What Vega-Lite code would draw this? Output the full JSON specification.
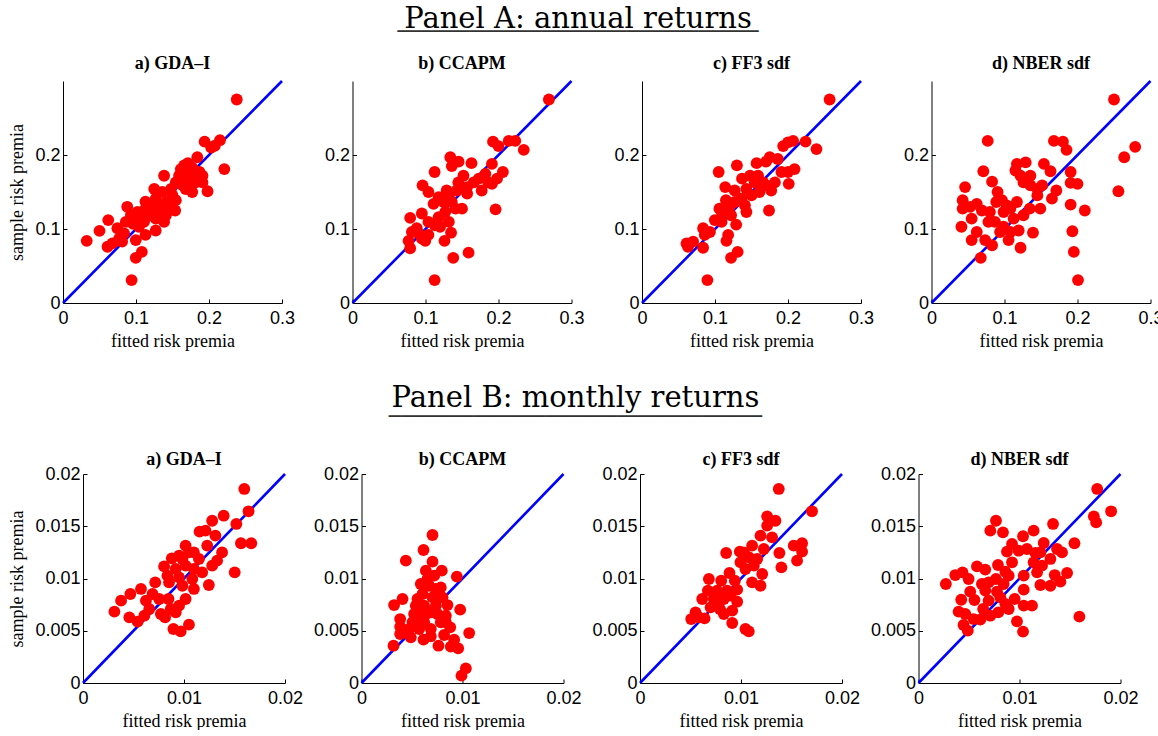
{
  "$schema": "https://vega.github.io/schema/vega-lite/v6.json",
  "background": "white",
  "padding": {"left": 8, "top": 4, "right": 0, "bottom": 0},
  "config": {
    "view": {"stroke": null},
    "axis": {"domainColor": "black", "domainWidth": 1, "tickColor": "black", "tickSize": -4, "labelColor": "black", "titleColor": "black", "labelFont": "Liberation Sans", "labelFontSize": 18, "titleFont": "Liberation Serif", "titleFontSize": 18, "titleFontWeight": "normal", "grid": false, "labelPadding": 7, "titlePadding": 8, "labelFlush": false},
    "axisX": {"labelPadding": 10, "titlePadding": 5},
    "title": {"font": "Liberation Serif", "fontSize": 18, "fontWeight": "bold", "color": "black", "anchor": "middle", "baseline": "alphabetic", "offset": 3}
  },
  "datasets": {
    "diagA": [{"fitted": 0, "sample": 0}, {"fitted": 0.3, "sample": 0.3}],
    "diagB": [{"fitted": 0, "sample": 0}, {"fitted": 0.02, "sample": 0.02}],
    "pts": [
      {"panel":"Aa","fitted":0.238,"sample":0.275},{"panel":"Aa","fitted":0.194,"sample":0.218},{"panel":"Aa","fitted":0.215,"sample":0.220},{"panel":"Aa","fitted":0.208,"sample":0.2125},{"panel":"Aa","fitted":0.203,"sample":0.210},{"panel":"Aa","fitted":0.221,"sample":0.181},{"panel":"Aa","fitted":0.198,"sample":0.151},{"panel":"Aa","fitted":0.184,"sample":0.197},{"panel":"Aa","fitted":0.171,"sample":0.189},{"panel":"Aa","fitted":0.166,"sample":0.186},{"panel":"Aa","fitted":0.177,"sample":0.183},{"panel":"Aa","fitted":0.187,"sample":0.177},{"panel":"Aa","fitted":0.191,"sample":0.163},{"panel":"Aa","fitted":0.177,"sample":0.150},{"panel":"Aa","fitted":0.1385,"sample":0.172},{"panel":"Aa","fitted":0.159,"sample":0.172},{"panel":"Aa","fitted":0.1545,"sample":0.163},{"panel":"Aa","fitted":0.164,"sample":0.159},{"panel":"Aa","fitted":0.173,"sample":0.163},{"panel":"Aa","fitted":0.148,"sample":0.154},{"panel":"Aa","fitted":0.125,"sample":0.154},{"panel":"Aa","fitted":0.136,"sample":0.150},{"panel":"Aa","fitted":0.113,"sample":0.137},{"panel":"Aa","fitted":0.127,"sample":0.141},{"panel":"Aa","fitted":0.141,"sample":0.136},{"panel":"Aa","fitted":0.1545,"sample":0.139},{"panel":"Aa","fitted":0.1536,"sample":0.125},{"panel":"Aa","fitted":0.088,"sample":0.130},{"panel":"Aa","fitted":0.102,"sample":0.123},{"panel":"Aa","fitted":0.120,"sample":0.1275},{"panel":"Aa","fitted":0.132,"sample":0.125},{"panel":"Aa","fitted":0.141,"sample":0.1186},{"panel":"Aa","fitted":0.1385,"sample":0.1096},{"panel":"Aa","fitted":0.127,"sample":0.098},{"panel":"Aa","fitted":0.113,"sample":0.092},{"panel":"Aa","fitted":0.104,"sample":0.103},{"panel":"Aa","fitted":0.093,"sample":0.119},{"panel":"Aa","fitted":0.096,"sample":0.107},{"panel":"Aa","fitted":0.0745,"sample":0.101},{"panel":"Aa","fitted":0.0837,"sample":0.094},{"panel":"Aa","fitted":0.081,"sample":0.083},{"panel":"Aa","fitted":0.0997,"sample":0.085},{"panel":"Aa","fitted":0.108,"sample":0.069},{"panel":"Aa","fitted":0.0997,"sample":0.061},{"panel":"Aa","fitted":0.094,"sample":0.031},{"panel":"Aa","fitted":0.062,"sample":0.112},{"panel":"Aa","fitted":0.050,"sample":0.0975},{"panel":"Aa","fitted":0.0325,"sample":0.084},{"panel":"Aa","fitted":0.061,"sample":0.076},{"panel":"Aa","fitted":0.0677,"sample":0.0805},{"panel":"Aa","fitted":0.111,"sample":0.1096},{"panel":"Aa","fitted":0.118,"sample":0.1186},{"panel":"Aa","fitted":0.145,"sample":0.132},{"panel":"Aa","fitted":0.150,"sample":0.1454},{"panel":"Aa","fitted":0.168,"sample":0.172},{"panel":"Aa","fitted":0.180,"sample":0.172},{"panel":"Aa","fitted":0.191,"sample":0.172},{"panel":"Aa","fitted":0.182,"sample":0.163},{"panel":"Aa","fitted":0.1614,"sample":0.181},{"panel":"Aa","fitted":0.168,"sample":0.154},{"panel":"Aa","fitted":0.127,"sample":0.132},{"panel":"Aa","fitted":0.113,"sample":0.1275},{"panel":"Aa","fitted":0.1066,"sample":0.114},{"panel":"Aa","fitted":0.0997,"sample":0.114},{"panel":"Aa","fitted":0.086,"sample":0.1096},{"panel":"Aa","fitted":0.0768,"sample":0.087},{"panel":"Aa","fitted":0.127,"sample":0.114},
      {"panel":"Ab","fitted":0.269,"sample":0.275},{"panel":"Ab","fitted":0.1925,"sample":0.218},{"panel":"Ab","fitted":0.200,"sample":0.212},{"panel":"Ab","fitted":0.214,"sample":0.219},{"panel":"Ab","fitted":0.223,"sample":0.219},{"panel":"Ab","fitted":0.2346,"sample":0.207},{"panel":"Ab","fitted":0.134,"sample":0.197},{"panel":"Ab","fitted":0.1454,"sample":0.191},{"panel":"Ab","fitted":0.136,"sample":0.185},{"panel":"Ab","fitted":0.163,"sample":0.189},{"panel":"Ab","fitted":0.1125,"sample":0.177},{"panel":"Ab","fitted":0.191,"sample":0.188},{"panel":"Ab","fitted":0.206,"sample":0.177},{"panel":"Ab","fitted":0.198,"sample":0.168},{"panel":"Ab","fitted":0.191,"sample":0.161},{"panel":"Ab","fitted":0.182,"sample":0.1745},{"panel":"Ab","fitted":0.173,"sample":0.168},{"panel":"Ab","fitted":0.177,"sample":0.152},{"panel":"Ab","fitted":0.166,"sample":0.163},{"panel":"Ab","fitted":0.152,"sample":0.172},{"panel":"Ab","fitted":0.145,"sample":0.163},{"panel":"Ab","fitted":0.157,"sample":0.1566},{"panel":"Ab","fitted":0.157,"sample":0.148},{"panel":"Ab","fitted":0.143,"sample":0.152},{"panel":"Ab","fitted":0.129,"sample":0.152},{"panel":"Ab","fitted":0.096,"sample":0.159},{"panel":"Ab","fitted":0.104,"sample":0.150},{"panel":"Ab","fitted":0.118,"sample":0.143},{"panel":"Ab","fitted":0.111,"sample":0.134},{"panel":"Ab","fitted":0.125,"sample":0.1365},{"panel":"Ab","fitted":0.136,"sample":0.1365},{"panel":"Ab","fitted":0.150,"sample":0.1275},{"panel":"Ab","fitted":0.127,"sample":0.123},{"panel":"Ab","fitted":0.118,"sample":0.116},{"panel":"Ab","fitted":0.132,"sample":0.1096},{"panel":"Ab","fitted":0.095,"sample":0.121},{"panel":"Ab","fitted":0.079,"sample":0.115},{"panel":"Ab","fitted":0.104,"sample":0.1096},{"panel":"Ab","fitted":0.104,"sample":0.092},{"panel":"Ab","fitted":0.095,"sample":0.087},{"panel":"Ab","fitted":0.0814,"sample":0.096},{"panel":"Ab","fitted":0.0768,"sample":0.084},{"panel":"Ab","fitted":0.079,"sample":0.074},{"panel":"Ab","fitted":0.0905,"sample":0.094},{"panel":"Ab","fitted":0.0997,"sample":0.084},{"panel":"Ab","fitted":0.120,"sample":0.103},{"panel":"Ab","fitted":0.135,"sample":0.095},{"panel":"Ab","fitted":0.126,"sample":0.084},{"panel":"Ab","fitted":0.159,"sample":0.068},{"panel":"Ab","fitted":0.138,"sample":0.061},{"panel":"Ab","fitted":0.196,"sample":0.1266},{"panel":"Ab","fitted":0.1125,"sample":0.031},{"panel":"Ab","fitted":0.088,"sample":0.101},{"panel":"Ab","fitted":0.113,"sample":0.105},{"panel":"Ab","fitted":0.141,"sample":0.1275},{"panel":"Ab","fitted":0.132,"sample":0.1454},{"panel":"Ab","fitted":0.186,"sample":0.163},
      {"panel":"Ac","fitted":0.257,"sample":0.275},{"panel":"Ac","fitted":0.1934,"sample":0.212},{"panel":"Ac","fitted":0.200,"sample":0.217},{"panel":"Ac","fitted":0.207,"sample":0.219},{"panel":"Ac","fitted":0.224,"sample":0.218},{"panel":"Ac","fitted":0.239,"sample":0.208},{"panel":"Ac","fitted":0.175,"sample":0.197},{"panel":"Ac","fitted":0.170,"sample":0.191},{"panel":"Ac","fitted":0.157,"sample":0.189},{"panel":"Ac","fitted":0.130,"sample":0.186},{"panel":"Ac","fitted":0.105,"sample":0.177},{"panel":"Ac","fitted":0.191,"sample":0.177},{"panel":"Ac","fitted":0.209,"sample":0.181},{"panel":"Ac","fitted":0.200,"sample":0.177},{"panel":"Ac","fitted":0.201,"sample":0.161},{"panel":"Ac","fitted":0.177,"sample":0.152},{"panel":"Ac","fitted":0.161,"sample":0.150},{"panel":"Ac","fitted":0.159,"sample":0.172},{"panel":"Ac","fitted":0.148,"sample":0.172},{"panel":"Ac","fitted":0.137,"sample":0.168},{"panel":"Ac","fitted":0.114,"sample":0.1566},{"panel":"Ac","fitted":0.127,"sample":0.152},{"panel":"Ac","fitted":0.143,"sample":0.154},{"panel":"Ac","fitted":0.182,"sample":0.163},{"panel":"Ac","fitted":0.115,"sample":0.139},{"panel":"Ac","fitted":0.106,"sample":0.1275},{"panel":"Ac","fitted":0.127,"sample":0.1365},{"panel":"Ac","fitted":0.141,"sample":0.132},{"panel":"Ac","fitted":0.143,"sample":0.123},{"panel":"Ac","fitted":0.174,"sample":0.125},{"panel":"Ac","fitted":0.0997,"sample":0.112},{"panel":"Ac","fitted":0.109,"sample":0.1096},{"panel":"Ac","fitted":0.122,"sample":0.1186},{"panel":"Ac","fitted":0.129,"sample":0.106},{"panel":"Ac","fitted":0.0837,"sample":0.101},{"panel":"Ac","fitted":0.093,"sample":0.096},{"panel":"Ac","fitted":0.086,"sample":0.092},{"panel":"Ac","fitted":0.061,"sample":0.0805},{"panel":"Ac","fitted":0.070,"sample":0.083},{"panel":"Ac","fitted":0.063,"sample":0.076},{"panel":"Ac","fitted":0.0837,"sample":0.0747},{"panel":"Ac","fitted":0.1157,"sample":0.084},{"panel":"Ac","fitted":0.118,"sample":0.092},{"panel":"Ac","fitted":0.131,"sample":0.069},{"panel":"Ac","fitted":0.122,"sample":0.061},{"panel":"Ac","fitted":0.0896,"sample":0.031},{"panel":"Ac","fitted":0.136,"sample":0.141},{"panel":"Ac","fitted":0.150,"sample":0.1454},{"panel":"Ac","fitted":0.166,"sample":0.163},{"panel":"Ac","fitted":0.109,"sample":0.123},{"panel":"Ac","fitted":0.120,"sample":0.130},{"panel":"Ac","fitted":0.186,"sample":0.1946},{"panel":"Ac","fitted":0.170,"sample":0.159},{"panel":"Ac","fitted":0.1545,"sample":0.163},
      {"panel":"Ad","fitted":0.250,"sample":0.275},{"panel":"Ad","fitted":0.279,"sample":0.211},{"panel":"Ad","fitted":0.264,"sample":0.197},{"panel":"Ad","fitted":0.256,"sample":0.151},{"panel":"Ad","fitted":0.077,"sample":0.219},{"panel":"Ad","fitted":0.1677,"sample":0.219},{"panel":"Ad","fitted":0.180,"sample":0.218},{"panel":"Ad","fitted":0.185,"sample":0.207},{"panel":"Ad","fitted":0.071,"sample":0.178},{"panel":"Ad","fitted":0.083,"sample":0.164},{"panel":"Ad","fitted":0.046,"sample":0.1566},{"panel":"Ad","fitted":0.117,"sample":0.188},{"panel":"Ad","fitted":0.129,"sample":0.190},{"panel":"Ad","fitted":0.115,"sample":0.179},{"panel":"Ad","fitted":0.122,"sample":0.172},{"panel":"Ad","fitted":0.1355,"sample":0.172},{"panel":"Ad","fitted":0.126,"sample":0.163},{"panel":"Ad","fitted":0.1355,"sample":0.159},{"panel":"Ad","fitted":0.145,"sample":0.154},{"panel":"Ad","fitted":0.1516,"sample":0.159},{"panel":"Ad","fitted":0.145,"sample":0.1454},{"panel":"Ad","fitted":0.154,"sample":0.188},{"panel":"Ad","fitted":0.163,"sample":0.178},{"panel":"Ad","fitted":0.171,"sample":0.152},{"panel":"Ad","fitted":0.165,"sample":0.141},{"panel":"Ad","fitted":0.149,"sample":0.1275},{"panel":"Ad","fitted":0.1346,"sample":0.1275},{"panel":"Ad","fitted":0.126,"sample":0.1186},{"panel":"Ad","fitted":0.117,"sample":0.1365},{"panel":"Ad","fitted":0.103,"sample":0.132},{"panel":"Ad","fitted":0.0905,"sample":0.150},{"panel":"Ad","fitted":0.0887,"sample":0.1365},{"panel":"Ad","fitted":0.0988,"sample":0.123},{"panel":"Ad","fitted":0.080,"sample":0.123},{"panel":"Ad","fitted":0.062,"sample":0.134},{"panel":"Ad","fitted":0.069,"sample":0.125},{"panel":"Ad","fitted":0.0427,"sample":0.139},{"panel":"Ad","fitted":0.0427,"sample":0.1275},{"panel":"Ad","fitted":0.053,"sample":0.130},{"panel":"Ad","fitted":0.055,"sample":0.114},{"panel":"Ad","fitted":0.041,"sample":0.103},{"panel":"Ad","fitted":0.062,"sample":0.096},{"panel":"Ad","fitted":0.055,"sample":0.085},{"panel":"Ad","fitted":0.0735,"sample":0.085},{"panel":"Ad","fitted":0.083,"sample":0.078},{"panel":"Ad","fitted":0.0675,"sample":0.061},{"panel":"Ad","fitted":0.087,"sample":0.1096},{"panel":"Ad","fitted":0.0988,"sample":0.103},{"panel":"Ad","fitted":0.108,"sample":0.096},{"panel":"Ad","fitted":0.1194,"sample":0.098},{"panel":"Ad","fitted":0.1056,"sample":0.085},{"panel":"Ad","fitted":0.122,"sample":0.0747},{"panel":"Ad","fitted":0.139,"sample":0.095},{"panel":"Ad","fitted":0.1125,"sample":0.114},{"panel":"Ad","fitted":0.1906,"sample":0.177},{"panel":"Ad","fitted":0.1906,"sample":0.1624},{"panel":"Ad","fitted":0.200,"sample":0.161},{"panel":"Ad","fitted":0.1906,"sample":0.133},{"panel":"Ad","fitted":0.210,"sample":0.125},{"panel":"Ad","fitted":0.193,"sample":0.097},{"panel":"Ad","fitted":0.195,"sample":0.069},{"panel":"Ad","fitted":0.2007,"sample":0.031},{"panel":"Ad","fitted":0.0965,"sample":0.139},{"panel":"Ad","fitted":0.108,"sample":0.1275},{"panel":"Ad","fitted":0.078,"sample":0.1096},{"panel":"Ad","fitted":0.094,"sample":0.096},
      {"panel":"Ba","fitted":0.01597,"sample":0.01857},{"panel":"Ba","fitted":0.01639,"sample":0.01643},{"panel":"Ba","fitted":0.01393,"sample":0.01601},{"panel":"Ba","fitted":0.01518,"sample":0.01522},{"panel":"Ba","fitted":0.01279,"sample":0.01553},{"panel":"Ba","fitted":0.01154,"sample":0.01448},{"panel":"Ba","fitted":0.01213,"sample":0.01458},{"panel":"Ba","fitted":0.01311,"sample":0.0141},{"panel":"Ba","fitted":0.01564,"sample":0.01337},{"panel":"Ba","fitted":0.01666,"sample":0.01337},{"panel":"Ba","fitted":0.01016,"sample":0.01314},{"panel":"Ba","fitted":0.01098,"sample":0.0125},{"panel":"Ba","fitted":0.0123,"sample":0.01314},{"panel":"Ba","fitted":0.01377,"sample":0.0125},{"panel":"Ba","fitted":0.00879,"sample":0.01193},{"panel":"Ba","fitted":0.00984,"sample":0.01187},{"panel":"Ba","fitted":0.01148,"sample":0.01187},{"panel":"Ba","fitted":0.01279,"sample":0.01123},{"panel":"Ba","fitted":0.01328,"sample":0.01171},{"panel":"Ba","fitted":0.01502,"sample":0.01059},{"panel":"Ba","fitted":0.00803,"sample":0.01116},{"panel":"Ba","fitted":0.00918,"sample":0.01091},{"panel":"Ba","fitted":0.01016,"sample":0.01123},{"panel":"Ba","fitted":0.01098,"sample":0.01091},{"panel":"Ba","fitted":0.0118,"sample":0.01059},{"panel":"Ba","fitted":0.00836,"sample":0.01027},{"panel":"Ba","fitted":0.00951,"sample":0.01011},{"panel":"Ba","fitted":0.01082,"sample":0.00995},{"panel":"Ba","fitted":0.01246,"sample":0.00938},{"panel":"Ba","fitted":0.00715,"sample":0.00963},{"panel":"Ba","fitted":0.00852,"sample":0.00963},{"panel":"Ba","fitted":0.00984,"sample":0.00931},{"panel":"Ba","fitted":0.01098,"sample":0.009},{"panel":"Ba","fitted":0.00574,"sample":0.009},{"panel":"Ba","fitted":0.00469,"sample":0.00852},{"panel":"Ba","fitted":0.00377,"sample":0.00788},{"panel":"Ba","fitted":0.00311,"sample":0.00683},{"panel":"Ba","fitted":0.00689,"sample":0.00852},{"panel":"Ba","fitted":0.00623,"sample":0.00788},{"panel":"Ba","fitted":0.00754,"sample":0.00804},{"panel":"Ba","fitted":0.00846,"sample":0.00804},{"panel":"Ba","fitted":0.01016,"sample":0.00804},{"panel":"Ba","fitted":0.00951,"sample":0.0074},{"panel":"Ba","fitted":0.00869,"sample":0.00708},{"panel":"Ba","fitted":0.00656,"sample":0.00708},{"panel":"Ba","fitted":0.00771,"sample":0.0066},{"panel":"Ba","fitted":0.00607,"sample":0.00644},{"panel":"Ba","fitted":0.00459,"sample":0.00628},{"panel":"Ba","fitted":0.00541,"sample":0.00587},{"panel":"Ba","fitted":0.00813,"sample":0.00628},{"panel":"Ba","fitted":0.00895,"sample":0.00517},{"panel":"Ba","fitted":0.00967,"sample":0.00494},{"panel":"Ba","fitted":0.01049,"sample":0.00558},{"panel":"Ba","fitted":0.00918,"sample":0.00676},{"panel":"Ba","fitted":0.01049,"sample":0.0125},{"panel":"Ba","fitted":0.00951,"sample":0.01219},
      {"panel":"Bb","fitted":0.00703,"sample":0.01416},{"panel":"Bb","fitted":0.00614,"sample":0.01273},{"panel":"Bb","fitted":0.00439,"sample":0.01171},{"panel":"Bb","fitted":0.00703,"sample":0.01161},{"panel":"Bb","fitted":0.00637,"sample":0.01075},{"panel":"Bb","fitted":0.00795,"sample":0.01075},{"panel":"Bb","fitted":0.00944,"sample":0.01018},{"panel":"Bb","fitted":0.0072,"sample":0.01027},{"panel":"Bb","fitted":0.00587,"sample":0.00947},{"panel":"Bb","fitted":0.0067,"sample":0.00931},{"panel":"Bb","fitted":0.00785,"sample":0.00915},{"panel":"Bb","fitted":0.00604,"sample":0.00852},{"panel":"Bb","fitted":0.00703,"sample":0.0082},{"panel":"Bb","fitted":0.00802,"sample":0.0082},{"panel":"Bb","fitted":0.00406,"sample":0.00804},{"panel":"Bb","fitted":0.00323,"sample":0.00746},{"panel":"Bb","fitted":0.00538,"sample":0.0074},{"panel":"Bb","fitted":0.0062,"sample":0.0074},{"panel":"Bb","fitted":0.00736,"sample":0.0074},{"panel":"Bb","fitted":0.00851,"sample":0.00746},{"panel":"Bb","fitted":0.00977,"sample":0.00702},{"panel":"Bb","fitted":0.00521,"sample":0.0066},{"panel":"Bb","fitted":0.00637,"sample":0.0066},{"panel":"Bb","fitted":0.00752,"sample":0.0066},{"panel":"Bb","fitted":0.00835,"sample":0.00644},{"panel":"Bb","fitted":0.00383,"sample":0.00612},{"panel":"Bb","fitted":0.00505,"sample":0.00581},{"panel":"Bb","fitted":0.0062,"sample":0.00581},{"panel":"Bb","fitted":0.00785,"sample":0.00581},{"panel":"Bb","fitted":0.00878,"sample":0.00533},{"panel":"Bb","fitted":0.00383,"sample":0.00539},{"panel":"Bb","fitted":0.00472,"sample":0.00517},{"panel":"Bb","fitted":0.00571,"sample":0.00517},{"panel":"Bb","fitted":0.00686,"sample":0.00517},{"panel":"Bb","fitted":0.00383,"sample":0.00469},{"panel":"Bb","fitted":0.00488,"sample":0.00437},{"panel":"Bb","fitted":0.00614,"sample":0.00415},{"panel":"Bb","fitted":0.00686,"sample":0.00447},{"panel":"Bb","fitted":0.00818,"sample":0.00459},{"panel":"Bb","fitted":0.00917,"sample":0.00415},{"panel":"Bb","fitted":0.01066,"sample":0.00478},{"panel":"Bb","fitted":0.00317,"sample":0.00357},{"panel":"Bb","fitted":0.00762,"sample":0.00357},{"panel":"Bb","fitted":0.00884,"sample":0.00348},{"panel":"Bb","fitted":0.00957,"sample":0.00332},{"panel":"Bb","fitted":0.01033,"sample":0.0014},{"panel":"Bb","fitted":0.0099,"sample":0.0007},{"panel":"Bb","fitted":0.00571,"sample":0.00708},{"panel":"Bb","fitted":0.00554,"sample":0.00804},{"panel":"Bb","fitted":0.00653,"sample":0.00995},{"panel":"Bb","fitted":0.00736,"sample":0.009},{"panel":"Bb","fitted":0.00686,"sample":0.00676},{"panel":"Bb","fitted":0.00769,"sample":0.0082},{"panel":"Bb","fitted":0.00587,"sample":0.00612},{"panel":"Bb","fitted":0.00455,"sample":0.00485},{"panel":"Bb","fitted":0.00835,"sample":0.00581},
      {"panel":"Bc","fitted":0.01374,"sample":0.01857},{"panel":"Bc","fitted":0.01703,"sample":0.01643},{"panel":"Bc","fitted":0.01259,"sample":0.01595},{"panel":"Bc","fitted":0.01341,"sample":0.01553},{"panel":"Bc","fitted":0.01259,"sample":0.01506},{"panel":"Bc","fitted":0.01193,"sample":0.0141},{"panel":"Bc","fitted":0.01308,"sample":0.01394},{"panel":"Bc","fitted":0.01522,"sample":0.01314},{"panel":"Bc","fitted":0.01605,"sample":0.01337},{"panel":"Bc","fitted":0.01605,"sample":0.01257},{"panel":"Bc","fitted":0.01555,"sample":0.01171},{"panel":"Bc","fitted":0.0138,"sample":0.01244},{"panel":"Bc","fitted":0.0140,"sample":0.01107},{"panel":"Bc","fitted":0.0111,"sample":0.01314},{"panel":"Bc","fitted":0.01226,"sample":0.01282},{"panel":"Bc","fitted":0.00988,"sample":0.01257},{"panel":"Bc","fitted":0.00853,"sample":0.01244},{"panel":"Bc","fitted":0.01077,"sample":0.01203},{"panel":"Bc","fitted":0.0116,"sample":0.01187},{"panel":"Bc","fitted":0.00995,"sample":0.01155},{"panel":"Bc","fitted":0.01044,"sample":0.01091},{"panel":"Bc","fitted":0.0121,"sample":0.01043},{"panel":"Bc","fitted":0.0111,"sample":0.00963},{"panel":"Bc","fitted":0.01193,"sample":0.00931},{"panel":"Bc","fitted":0.00886,"sample":0.01053},{"panel":"Bc","fitted":0.00939,"sample":0.00979},{"panel":"Bc","fitted":0.00804,"sample":0.00979},{"panel":"Bc","fitted":0.00682,"sample":0.00995},{"panel":"Bc","fitted":0.00863,"sample":0.00884},{"panel":"Bc","fitted":0.00962,"sample":0.00893},{"panel":"Bc","fitted":0.00764,"sample":0.00884},{"panel":"Bc","fitted":0.00672,"sample":0.00884},{"panel":"Bc","fitted":0.00731,"sample":0.00804},{"panel":"Bc","fitted":0.00616,"sample":0.00804},{"panel":"Bc","fitted":0.0083,"sample":0.00804},{"panel":"Bc","fitted":0.00962,"sample":0.00778},{"panel":"Bc","fitted":0.00699,"sample":0.00724},{"panel":"Bc","fitted":0.00791,"sample":0.00708},{"panel":"Bc","fitted":0.00913,"sample":0.00692},{"panel":"Bc","fitted":0.0055,"sample":0.00676},{"panel":"Bc","fitted":0.00507,"sample":0.00612},{"panel":"Bc","fitted":0.00639,"sample":0.00619},{"panel":"Bc","fitted":0.0083,"sample":0.0066},{"panel":"Bc","fitted":0.00913,"sample":0.00574},{"panel":"Bc","fitted":0.01044,"sample":0.00517},{"panel":"Bc","fitted":0.01077,"sample":0.00494},{"panel":"Bc","fitted":0.00583,"sample":0.00628},{"panel":"Bc","fitted":0.01028,"sample":0.0125},{"panel":"Bc","fitted":0.01127,"sample":0.01123},{"panel":"Bc","fitted":0.00896,"sample":0.00836},{"panel":"Bc","fitted":0.00764,"sample":0.0077},
      {"panel":"Bd","fitted":0.01769,"sample":0.01857},{"panel":"Bd","fitted":0.01907,"sample":0.01643},{"panel":"Bd","fitted":0.01736,"sample":0.01595},{"panel":"Bd","fitted":0.01759,"sample":0.01537},{"panel":"Bd","fitted":0.01332,"sample":0.01522},{"panel":"Bd","fitted":0.00767,"sample":0.01553},{"panel":"Bd","fitted":0.00711,"sample":0.01458},{"panel":"Bd","fitted":0.00836,"sample":0.01442},{"panel":"Bd","fitted":0.0114,"sample":0.01458},{"panel":"Bd","fitted":0.01035,"sample":0.01404},{"panel":"Bd","fitted":0.00926,"sample":0.0133},{"panel":"Bd","fitted":0.0124,"sample":0.0134},{"panel":"Bd","fitted":0.01544,"sample":0.01337},{"panel":"Bd","fitted":0.01372,"sample":0.01282},{"panel":"Bd","fitted":0.01421,"sample":0.0125},{"panel":"Bd","fitted":0.00876,"sample":0.01257},{"panel":"Bd","fitted":0.00992,"sample":0.01266},{"panel":"Bd","fitted":0.01074,"sample":0.01282},{"panel":"Bd","fitted":0.01157,"sample":0.01244},{"panel":"Bd","fitted":0.01207,"sample":0.0125},{"panel":"Bd","fitted":0.01306,"sample":0.01187},{"panel":"Bd","fitted":0.0114,"sample":0.01155},{"panel":"Bd","fitted":0.01223,"sample":0.01123},{"panel":"Bd","fitted":0.01174,"sample":0.01059},{"panel":"Bd","fitted":0.00926,"sample":0.01155},{"panel":"Bd","fitted":0.00787,"sample":0.01129},{"panel":"Bd","fitted":0.0086,"sample":0.01065},{"panel":"Bd","fitted":0.00893,"sample":0.01027},{"panel":"Bd","fitted":0.01042,"sample":0.01027},{"panel":"Bd","fitted":0.01471,"sample":0.01053},{"panel":"Bd","fitted":0.01349,"sample":0.01033},{"panel":"Bd","fitted":0.01405,"sample":0.0097},{"panel":"Bd","fitted":0.01207,"sample":0.00938},{"panel":"Bd","fitted":0.01306,"sample":0.00931},{"panel":"Bd","fitted":0.00579,"sample":0.01116},{"panel":"Bd","fitted":0.00661,"sample":0.01085},{"panel":"Bd","fitted":0.00364,"sample":0.01033},{"panel":"Bd","fitted":0.00436,"sample":0.01059},{"panel":"Bd","fitted":0.00496,"sample":0.00995},{"panel":"Bd","fitted":0.00271,"sample":0.00947},{"panel":"Bd","fitted":0.00628,"sample":0.00947},{"panel":"Bd","fitted":0.00694,"sample":0.00963},{"panel":"Bd","fitted":0.00767,"sample":0.00995},{"panel":"Bd","fitted":0.00843,"sample":0.00947},{"panel":"Bd","fitted":0.00661,"sample":0.00884},{"panel":"Bd","fitted":0.00512,"sample":0.00874},{"panel":"Bd","fitted":0.00423,"sample":0.00797},{"panel":"Bd","fitted":0.00554,"sample":0.00794},{"panel":"Bd","fitted":0.00694,"sample":0.00788},{"panel":"Bd","fitted":0.0081,"sample":0.0082},{"panel":"Bd","fitted":0.01042,"sample":0.00893},{"panel":"Bd","fitted":0.00952,"sample":0.00804},{"panel":"Bd","fitted":0.01042,"sample":0.0074},{"panel":"Bd","fitted":0.01124,"sample":0.0074},{"panel":"Bd","fitted":0.0086,"sample":0.00756},{"panel":"Bd","fitted":0.00397,"sample":0.00683},{"panel":"Bd","fitted":0.00463,"sample":0.0066},{"panel":"Bd","fitted":0.0064,"sample":0.00708},{"panel":"Bd","fitted":0.00711,"sample":0.00644},{"panel":"Bd","fitted":0.0079,"sample":0.00676},{"panel":"Bd","fitted":0.00893,"sample":0.00708},{"panel":"Bd","fitted":0.00545,"sample":0.00612},{"panel":"Bd","fitted":0.00612,"sample":0.00606},{"panel":"Bd","fitted":0.00446,"sample":0.00555},{"panel":"Bd","fitted":0.00488,"sample":0.00501},{"panel":"Bd","fitted":0.00975,"sample":0.0059},{"panel":"Bd","fitted":0.01035,"sample":0.00491},{"panel":"Bd","fitted":0.01593,"sample":0.00635},{"panel":"Bd","fitted":0.00777,"sample":0.00874}
    ]
  },
  "spacing": 34,
  "vconcat": [
    {
      "title": {"text": "Panel A: annual returns", "subtitle": "──────────────────────────────", "font": "DejaVu Serif", "fontSize": 29, "fontWeight": "normal", "baseline": "top", "anchor": "middle", "offset": 13, "dx": -8, "color": "black", "subtitleFont": "DejaVu Sans Mono", "subtitleFontSize": 20, "subtitleColor": "#333333", "subtitlePadding": -12},
      "spacing": 28.5,
      "hconcat": [
        {"title": "a) GDA–I", "width": 219, "height": 222, "layer": [
          {"data": {"name": "diagA"}, "mark": {"type": "line", "color": "#0000ff", "strokeWidth": 2.6}, "encoding": {"x": {"field": "fitted", "type": "quantitative", "scale": {"domain": [0, 0.3], "nice": false}, "axis": {"values": [0, 0.1, 0.2, 0.3], "format": "~g", "title": "fitted risk premia"}}, "y": {"field": "sample", "type": "quantitative", "scale": {"domain": [0, 0.3], "nice": false}, "axis": {"values": [0, 0.1, 0.2], "format": "~g", "title": "sample risk premia"}}}},
          {"data": {"name": "pts"}, "transform": [{"filter": "datum.panel === 'Aa'"}], "mark": {"type": "circle", "color": "#ff0000", "opacity": 1, "size": 140}, "encoding": {"x": {"field": "fitted", "type": "quantitative"}, "y": {"field": "sample", "type": "quantitative"}}}
        ]},
        {"title": "b) CCAPM", "width": 219, "height": 222, "layer": [
          {"data": {"name": "diagA"}, "mark": {"type": "line", "color": "#0000ff", "strokeWidth": 2.6}, "encoding": {"x": {"field": "fitted", "type": "quantitative", "scale": {"domain": [0, 0.3], "nice": false}, "axis": {"values": [0, 0.1, 0.2, 0.3], "format": "~g", "title": "fitted risk premia"}}, "y": {"field": "sample", "type": "quantitative", "scale": {"domain": [0, 0.3], "nice": false}, "axis": {"values": [0, 0.1, 0.2], "format": "~g", "title": null}}}},
          {"data": {"name": "pts"}, "transform": [{"filter": "datum.panel === 'Ab'"}], "mark": {"type": "circle", "color": "#ff0000", "opacity": 1, "size": 140}, "encoding": {"x": {"field": "fitted", "type": "quantitative"}, "y": {"field": "sample", "type": "quantitative"}}}
        ]},
        {"title": "c) FF3 sdf", "width": 219, "height": 222, "layer": [
          {"data": {"name": "diagA"}, "mark": {"type": "line", "color": "#0000ff", "strokeWidth": 2.6}, "encoding": {"x": {"field": "fitted", "type": "quantitative", "scale": {"domain": [0, 0.3], "nice": false}, "axis": {"values": [0, 0.1, 0.2, 0.3], "format": "~g", "title": "fitted risk premia"}}, "y": {"field": "sample", "type": "quantitative", "scale": {"domain": [0, 0.3], "nice": false}, "axis": {"values": [0, 0.1, 0.2], "format": "~g", "title": null}}}},
          {"data": {"name": "pts"}, "transform": [{"filter": "datum.panel === 'Ac'"}], "mark": {"type": "circle", "color": "#ff0000", "opacity": 1, "size": 140}, "encoding": {"x": {"field": "fitted", "type": "quantitative"}, "y": {"field": "sample", "type": "quantitative"}}}
        ]},
        {"title": "d) NBER sdf", "width": 219, "height": 222, "layer": [
          {"data": {"name": "diagA"}, "mark": {"type": "line", "color": "#0000ff", "strokeWidth": 2.6}, "encoding": {"x": {"field": "fitted", "type": "quantitative", "scale": {"domain": [0, 0.3], "nice": false}, "axis": {"values": [0, 0.1, 0.2, 0.3], "format": "~g", "title": "fitted risk premia"}}, "y": {"field": "sample", "type": "quantitative", "scale": {"domain": [0, 0.3], "nice": false}, "axis": {"values": [0, 0.1, 0.2], "format": "~g", "title": null}}}},
          {"data": {"name": "pts"}, "transform": [{"filter": "datum.panel === 'Ad'"}], "mark": {"type": "circle", "color": "#ff0000", "opacity": 1, "size": 140}, "encoding": {"x": {"field": "fitted", "type": "quantitative"}, "y": {"field": "sample", "type": "quantitative"}}}
        ]}
      ]
    },
    {
      "title": {"text": "Panel B: monthly returns", "subtitle": "───────────────────────────────", "font": "DejaVu Serif", "fontSize": 29, "fontWeight": "normal", "baseline": "top", "anchor": "middle", "offset": 24, "dx": 2, "color": "black", "subtitleFont": "DejaVu Sans Mono", "subtitleFontSize": 20, "subtitleColor": "#333333", "subtitlePadding": -6},
      "spacing": 9.5,
      "hconcat": [
        {"title": {"text": "a) GDA–I", "offset": -4, "dx": 10}, "width": 222, "height": 209, "layer": [
          {"data": {"name": "diagB"}, "mark": {"type": "line", "color": "#0000ff", "strokeWidth": 2.6}, "encoding": {"x": {"field": "fitted", "type": "quantitative", "scale": {"domain": [0, 0.02], "nice": false, "range": [20, 222]}, "axis": {"values": [0, 0.01, 0.02], "format": "~g", "title": "fitted risk premia"}}, "y": {"field": "sample", "type": "quantitative", "scale": {"domain": [0, 0.02], "nice": false}, "axis": {"values": [0, 0.005, 0.01, 0.015, 0.02], "format": "~g", "title": "sample risk premia", "offset": -20}}}},
          {"data": {"name": "pts"}, "transform": [{"filter": "datum.panel === 'Ba'"}], "mark": {"type": "circle", "color": "#ff0000", "opacity": 1, "size": 140}, "encoding": {"x": {"field": "fitted", "type": "quantitative"}, "y": {"field": "sample", "type": "quantitative"}}}
        ]},
        {"title": {"text": "b) CCAPM", "offset": -4}, "width": 202, "height": 209, "layer": [
          {"data": {"name": "diagB"}, "mark": {"type": "line", "color": "#0000ff", "strokeWidth": 2.6}, "encoding": {"x": {"field": "fitted", "type": "quantitative", "scale": {"domain": [0, 0.02], "nice": false}, "axis": {"values": [0, 0.01, 0.02], "format": "~g", "title": "fitted risk premia"}}, "y": {"field": "sample", "type": "quantitative", "scale": {"domain": [0, 0.02], "nice": false}, "axis": {"values": [0, 0.005, 0.01, 0.015, 0.02], "format": "~g", "title": null}}}},
          {"data": {"name": "pts"}, "transform": [{"filter": "datum.panel === 'Bb'"}], "mark": {"type": "circle", "color": "#ff0000", "opacity": 1, "size": 140}, "encoding": {"x": {"field": "fitted", "type": "quantitative"}, "y": {"field": "sample", "type": "quantitative"}}}
        ]},
        {"title": {"text": "c) FF3 sdf", "offset": -4}, "width": 202, "height": 209, "layer": [
          {"data": {"name": "diagB"}, "mark": {"type": "line", "color": "#0000ff", "strokeWidth": 2.6}, "encoding": {"x": {"field": "fitted", "type": "quantitative", "scale": {"domain": [0, 0.02], "nice": false}, "axis": {"values": [0, 0.01, 0.02], "format": "~g", "title": "fitted risk premia"}}, "y": {"field": "sample", "type": "quantitative", "scale": {"domain": [0, 0.02], "nice": false}, "axis": {"values": [0, 0.005, 0.01, 0.015, 0.02], "format": "~g", "title": null}}}},
          {"data": {"name": "pts"}, "transform": [{"filter": "datum.panel === 'Bc'"}], "mark": {"type": "circle", "color": "#ff0000", "opacity": 1, "size": 140}, "encoding": {"x": {"field": "fitted", "type": "quantitative"}, "y": {"field": "sample", "type": "quantitative"}}}
        ]},
        {"title": {"text": "d) NBER sdf", "offset": -4}, "width": 202, "height": 209, "layer": [
          {"data": {"name": "diagB"}, "mark": {"type": "line", "color": "#0000ff", "strokeWidth": 2.6}, "encoding": {"x": {"field": "fitted", "type": "quantitative", "scale": {"domain": [0, 0.02], "nice": false}, "axis": {"values": [0, 0.01, 0.02], "format": "~g", "title": "fitted risk premia"}}, "y": {"field": "sample", "type": "quantitative", "scale": {"domain": [0, 0.02], "nice": false}, "axis": {"values": [0, 0.005, 0.01, 0.015, 0.02], "format": "~g", "title": null}}}},
          {"data": {"name": "pts"}, "transform": [{"filter": "datum.panel === 'Bd'"}], "mark": {"type": "circle", "color": "#ff0000", "opacity": 1, "size": 140}, "encoding": {"x": {"field": "fitted", "type": "quantitative"}, "y": {"field": "sample", "type": "quantitative"}}}
        ]}
      ]
    }
  ]
}
